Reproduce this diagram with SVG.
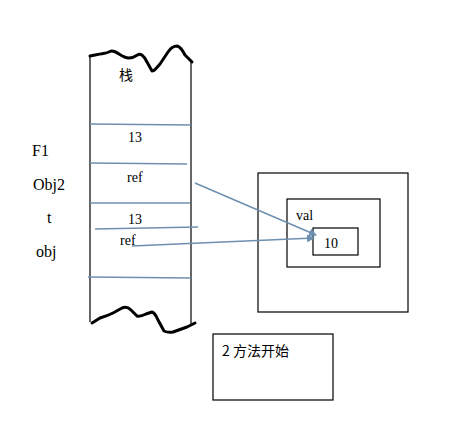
<svg xmlns="http://www.w3.org/2000/svg" width="472" height="424" viewBox="0 0 472 424">
<defs>
<style>
.t{font-family:"Liberation Serif","Noto Serif CJK SC","Noto Sans CJK SC",serif;font-size:14px;fill:#000}
.l{font-family:"Liberation Serif",serif;font-size:16px;fill:#000}
.c{font-family:"Noto Sans CJK SC",sans-serif;font-size:14px;fill:#000}
.box{fill:none;stroke:#000;stroke-width:1.2}
.wave{fill:none;stroke:#000;stroke-width:3;stroke-linejoin:round;stroke-linecap:round}
.sep{stroke:#6f8fb0;stroke-width:1.6;fill:none}
.arr{stroke:#6f8fb0;stroke-width:1.6;fill:none;marker-end:url(#ah)}
</style>
<marker id="ah" markerWidth="8" markerHeight="8" refX="7" refY="4" orient="auto" markerUnits="userSpaceOnUse">
<path d="M0,0 L8,4 L0,8 Z" fill="#6f8fb0"/>
</marker>
</defs>
<rect width="472" height="424" fill="#fff"/>
<g id="stack">
<line x1="90" y1="55" x2="90" y2="322" stroke="#000" stroke-width="1.2"/>
<line x1="191" y1="60" x2="191" y2="324" stroke="#000" stroke-width="1.2"/>
<path class="wave" d="M90,56 L95,55 Q100,54 103.5,53.5 Q107,53 110,51.5 Q113,50 119,54 Q125,58 129,58 Q133,58 137.5,55 Q142,52 147,62 L152,71 Q154,71 156,68.5 L160,64 Q164,58 168,52 Q172,46 177,46 Q181,47 185,55 L192,62"/>
<path class="wave" d="M92,323 L100,318 Q107,316 113,313 L122,308 Q127,306 131,310 L137,316 Q140,317 146,314 L152,312 Q155,313 158,320 L164,331 Q168,333 173,332 L187,327 L195,323"/>
<text class="c" x="119" y="80">栈</text>
</g>
<g id="slots">
<line class="sep" x1="90" y1="124" x2="191" y2="125"/>
<line class="sep" x1="90" y1="163" x2="187" y2="164"/>
<line class="sep" x1="90" y1="203" x2="190" y2="203"/>
<line class="sep" x1="95" y1="229" x2="198" y2="227"/>
<line class="sep" x1="88" y1="277" x2="191" y2="278"/>
<text class="t" x="128" y="142">13</text>
<text class="t" x="127" y="182">ref</text>
<text class="t" x="128" y="224">13</text>
<text class="t" x="120" y="245">ref</text>
</g>
<g id="labels">
<text class="l" x="32" y="156">F1</text>
<text class="l" x="33" y="190">Obj2</text>
<text class="l" x="47" y="223">t</text>
<text class="l" x="36" y="257">obj</text>
</g>
<g id="heap">
<rect class="box" x="258" y="173" width="150" height="139"/>
<rect class="box" x="287" y="199" width="93" height="68"/>
<rect class="box" x="313" y="228" width="45" height="27"/>
<text class="t" x="296" y="220">val</text>
<text class="t" x="324" y="248">10</text>
</g>
<g id="note">
<rect class="box" x="213" y="334" width="120" height="66"/>
<text class="c" x="222" y="356">2 方法开始</text>
</g>
<g id="connectors">
<line class="arr" x1="195" y1="183" x2="316" y2="235"/>
<line class="arr" x1="132" y1="246" x2="314" y2="238"/>
</g>
</svg>
